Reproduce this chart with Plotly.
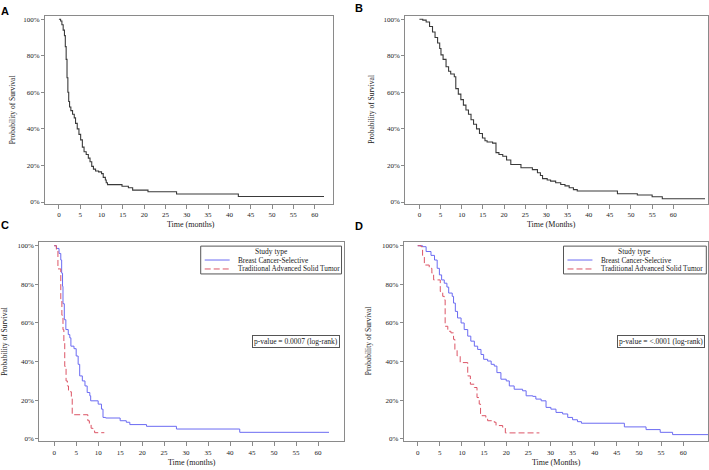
import plotly.graph_objects as go

# ---------------- data ----------------
A_time = [0, 0.4, 0.7, 1.0, 1.3, 1.5, 1.7, 1.9, 2.1, 2.3, 2.5, 2.8, 3.2, 3.6, 3.9, 4.3, 4.7, 5.1, 5.5, 5.9,
          6.4, 6.9, 7.3, 7.7, 8.1, 8.6, 9.3, 10.0, 10.4, 10.9, 11.1, 11.4, 14.8, 16.3, 17.3, 20.9, 27.6, 42.1, 62.2]
A_surv = [100, 99, 97, 94, 91, 85, 78, 68, 60, 55, 52, 50, 48, 46, 43, 40, 37, 34, 30, 27.5,
          26, 24, 22, 19.5, 18, 17, 16.5, 15.5, 13.5, 12, 10.5, 9.5, 8.6, 7.8, 6.5, 5.6, 4.4, 3.0, 3.0]

B_time = [0, 0.8, 1.6, 2.4, 3.1, 3.7, 4.3, 4.8, 5.1, 5.6, 6.3, 6.9, 7.4, 8.25, 8.6, 9.2, 9.8, 10.4, 11.0, 11.6,
          12.2, 12.8, 13.5, 14.2, 14.9, 15.5, 16.0, 17.3, 18.1, 18.8, 19.7, 20.6, 21.6, 24.0, 26.7, 27.9, 28.6,
          29.1, 30.2, 31.0, 32.2, 33.4, 34.4, 35.4, 36.4, 37.3, 46.8, 51.5, 55.0, 57.4, 67.5]
B_surv = [100, 99.5, 98.5, 96, 93, 90, 87, 84, 80.5, 78, 74, 71.5, 70, 68.5, 62, 59, 56, 53, 50.3, 48,
          45, 42.5, 40, 37.5, 35, 33.5, 32.8, 32.2, 27, 26, 25, 23, 20.5, 18.7, 17.7, 16, 14.5,
          12.8, 12, 11.4, 10.5, 9.6, 8.8, 7.8, 6.8, 6.0, 4.5, 3.8, 2.9, 1.8, 1.8]

C_bcs_time = [0, 0.5, 1.1, 1.5, 1.7, 1.9, 2.0, 2.3, 2.65, 3.2, 3.55, 3.8, 4.5, 5.0, 5.45, 5.8, 6.4, 7.0, 7.5, 8.1,
              8.3, 10.0, 10.75, 11.1, 11.7, 15.0, 16.4, 17.2, 21.0, 27.8, 42.2, 62.5]
C_bcs_surv = [100, 98.6, 96, 92.6, 85.8, 79, 70, 61.7, 56.6, 54, 52.3, 48, 46.7, 42.9, 38.6, 32.6, 30, 27.4, 24, 22.3,
              19.7, 18, 15.4, 11.1, 10.8, 9.4, 8.6, 7.4, 6.5, 5.1, 3.4, 3.4]
C_tast_time = [0, 0.5, 0.85, 1.5, 1.75, 2.0, 2.2, 2.4, 2.7, 3.0, 3.25, 3.9, 4.1, 7.65, 8.0, 8.4, 8.8, 9.2, 11.4]
C_tast_surv = [100, 97.8, 88, 72, 64, 56.5, 49.7, 37.5, 30, 27.4, 24.4, 21.4, 12.5, 9.4, 7.2, 5.5, 4.1, 3.2, 3.2]

D_bcs_time = [0, 1.1, 1.9, 3.0, 3.8, 4.4, 4.9, 5.4, 6.0, 6.6, 7.0, 7.8, 8.1, 8.5, 9.0, 9.8, 10.5, 11.3, 12.0, 12.8,
              13.55, 14.3, 14.9, 15.8, 16.6, 17.3, 17.9, 18.8, 20.0, 20.7, 21.8, 23.7, 24.5, 26.0, 26.7, 27.9, 29.0,
              30.1, 31.25, 32.75, 33.9, 35.0, 36.1, 37.0, 46.7, 51.6, 54.8, 57.6, 66]
D_bcs_surv = [100, 99.5, 97, 95, 92.6, 88.3, 84.9, 82.3, 80.6, 78.6, 75.5, 73.8, 70.3, 66, 62.6, 60, 56.6, 53.2, 50.6, 48,
              46.3, 43.7, 41.2, 40.3, 38.6, 37.7, 34.3, 30.9, 30, 27.4, 25.7, 24.9, 22.3, 22, 20.6, 19.7, 16.3,
              15.4, 13.7, 12.9, 11.1, 9.9, 8.9, 8.1, 6.2, 4.8, 3.4, 2.2, 2.2]
D_tast_time = [0, 0.75, 1.1, 1.5, 2.6, 3.2, 3.6, 5.1, 5.65, 6.0, 6.2, 6.8, 7.5, 8.1, 8.4, 8.9, 9.6, 11.3, 11.9, 12.8,
               13.4, 13.9, 14.2, 15.4, 15.8, 17.3, 17.7, 19.2, 19.8, 27.5]
D_tast_surv = [100, 99.5, 95, 90, 88.3, 85.8, 82.3, 76.3, 73.8, 72, 58.3, 55.7, 54.9, 51.5, 46.3, 42.9, 39.5, 32.6, 28.3, 26.6,
               21.4, 18, 12, 11.1, 9.4, 8.6, 6.9, 6, 3.1, 3.1]

x_ticks = list(range(0, 65, 5))
y_ticks = [0, 20, 40, 60, 80, 100]
y_ticktext = ["0%", "20%", "40%", "60%", "80%", "100%"]
series_names = ["Breast Cancer-Selective", "Traditional Advanced Solid Tumor"]
legend_title = "Study type"
p_values = ["p-value = 0.0007 (log-rank)", "p-value = <.0001 (log-rank)"]
x_titles = ["Time (months)", "Time (Months)", "Time (months)", "Time (Months)"]
y_title = "Probability of Survival"
panel_labels = ["A", "B", "C", "D"]

# ---------------- styling ----------------
W, H = 709, 470
SERIF = "Liberation Serif"
TXT = "#1a1a1a"
BLACK = "#3a3a3a"
BLUE = "#6b6bf2"
RED = "#dc5566"
FRAME = "#8a8a8a"
DASH = "6px,3px"

fig = go.Figure()

def px_x(p):
    return p / W

def px_y(p):
    return 1 - p / H

fig.add_trace(go.Scatter(x=A_time, y=A_surv, mode="lines", line=dict(color=BLACK, width=1.1, shape="hv"),
                         xaxis="x", yaxis="y", showlegend=False, hoverinfo="skip"))
fig.add_trace(go.Scatter(x=B_time, y=B_surv, mode="lines", line=dict(color=BLACK, width=1.1, shape="hv"),
                         xaxis="x2", yaxis="y2", showlegend=False, hoverinfo="skip"))
fig.add_trace(go.Scatter(x=C_bcs_time, y=C_bcs_surv, mode="lines", name=series_names[0], showlegend=False,
                         line=dict(color=BLUE, width=1, shape="hv"), xaxis="x3", yaxis="y3"))
fig.add_trace(go.Scatter(x=C_tast_time, y=C_tast_surv, mode="lines", name=series_names[1], showlegend=False,
                         line=dict(color=RED, width=1, shape="hv", dash=DASH), xaxis="x3", yaxis="y3"))
fig.add_trace(go.Scatter(x=D_bcs_time, y=D_bcs_surv, mode="lines", name=series_names[0], showlegend=False,
                         line=dict(color=BLUE, width=1, shape="hv"), xaxis="x4", yaxis="y4"))
fig.add_trace(go.Scatter(x=D_tast_time, y=D_tast_surv, mode="lines", name=series_names[1], showlegend=False,
                         line=dict(color=RED, width=1, shape="hv", dash=DASH), xaxis="x4", yaxis="y4"))

tickfont = dict(family=SERIF, size=7, color=TXT)

def xax(domain, rng, anchor):
    return dict(domain=domain, range=rng, anchor=anchor, tickvals=x_ticks, ticks="outside", ticklen=4,
                tickcolor=FRAME, showline=True, linecolor=FRAME, linewidth=1, mirror=True, showgrid=False,
                zeroline=False, tickfont=tickfont, fixedrange=True)

def yax(domain, rng, anchor):
    return dict(domain=domain, range=rng, anchor=anchor, tickvals=y_ticks, ticktext=y_ticktext, ticks="outside",
                ticklen=3, tickcolor=FRAME, showline=True, linecolor=FRAME, linewidth=1, mirror=True,
                showgrid=False, zeroline=False, tickfont=tickfont, fixedrange=True)

top_dom = [px_y(205), px_y(16)]
bot_dom = [px_y(444.3), px_y(244)]

fig.update_layout(
    width=W, height=H, margin=dict(l=0, r=0, t=0, b=0),
    paper_bgcolor="white", plot_bgcolor="white", showlegend=False,
    xaxis=xax([px_x(45), px_x(333)], [-3.28, 64.2], "y"),
    yaxis=yax(top_dom, [-0.92, 101.8], "x"),
    xaxis2=xax([px_x(405.7), 1.0], [-3.37, 68.2], "y2"),
    yaxis2=yax(top_dom, [-0.92, 101.8], "x2"),
    xaxis3=xax([px_x(39.3), px_x(344)], [-3.4, 65.8], "y3"),
    yaxis3=yax(bot_dom, [-1.34, 101.7], "x3"),
    xaxis4=xax([px_x(404.3), 1.0], [-3.16, 65.6], "y4"),
    yaxis4=yax(bot_dom, [-1.34, 101.7], "x4"),
)

annos = []
shapes = []
for lbl, (x, y) in zip(panel_labels, [(5, 11), (360, 8), (5, 226), (360, 227)]):
    annos.append(dict(text="<b>%s</b>" % lbl, x=px_x(x), y=px_y(y), xref="paper", yref="paper",
                      showarrow=False, xanchor="center", yanchor="middle",
                      font=dict(family="Liberation Sans", size=11, color="black")))
for t, (x, y) in zip(x_titles, [(191, 226), (552, 226), (192, 465), (557, 465)]):
    annos.append(dict(text=t, x=px_x(x), y=px_y(y), xref="paper", yref="paper", showarrow=False,
                      xanchor="center", yanchor="middle", font=dict(family=SERIF, size=8, color=TXT)))
for (x, y) in [(12, 110), (372, 110), (5, 343), (369, 343)]:
    annos.append(dict(text=y_title, x=px_x(x), y=px_y(y), xref="paper", yref="paper", showarrow=False,
                      textangle=-90, xanchor="center", yanchor="middle",
                      font=dict(family=SERIF, size=7.5, color=TXT)))
for t, xr in zip(p_values, [340.7, 706]):
    annos.append(dict(text=t, x=px_x(xr), y=px_y(344), xref="paper", yref="paper", showarrow=False,
                      xanchor="right", yanchor="middle", bordercolor="#555", borderwidth=1, borderpad=1,
                      bgcolor="white", font=dict(family=SERIF, size=7.5, color=TXT)))

# legends (box with title, line samples and labels)
for (bx0, bx1, lx0, lx1, tx) in [(201, 342, 205, 230, 236), (564.3, 707.3, 568.3, 593.3, 599.5)]:
    shapes.append(dict(type="rect", xref="paper", yref="paper", x0=px_x(bx0), x1=px_x(bx1),
                       y0=px_y(275.7), y1=px_y(247.7), line=dict(color="#555", width=1), fillcolor="white"))
    annos.append(dict(text=legend_title, x=px_x((bx0 + bx1) / 2), y=px_y(253.3), xref="paper", yref="paper",
                      showarrow=False, xanchor="center", yanchor="middle",
                      font=dict(family=SERIF, size=7.5, color=TXT)))
    for name, col, dash, yy in [(series_names[0], BLUE, "solid", 261.7), (series_names[1], RED, DASH, 270.7)]:
        shapes.append(dict(type="line", xref="paper", yref="paper", x0=px_x(lx0), x1=px_x(lx1),
                           y0=px_y(yy), y1=px_y(yy), line=dict(color=col, width=1, dash=dash)))
        annos.append(dict(text=name, x=px_x(tx), y=px_y(yy), xref="paper", yref="paper", showarrow=False,
                          xanchor="left", yanchor="middle", font=dict(family=SERIF, size=7.3, color=TXT)))

fig.update_layout(annotations=annos, shapes=shapes)

fig.write_html("out.html", config={"displayModeBar": False},
               post_script="document.body.style.margin='0';document.body.style.padding='0';")
